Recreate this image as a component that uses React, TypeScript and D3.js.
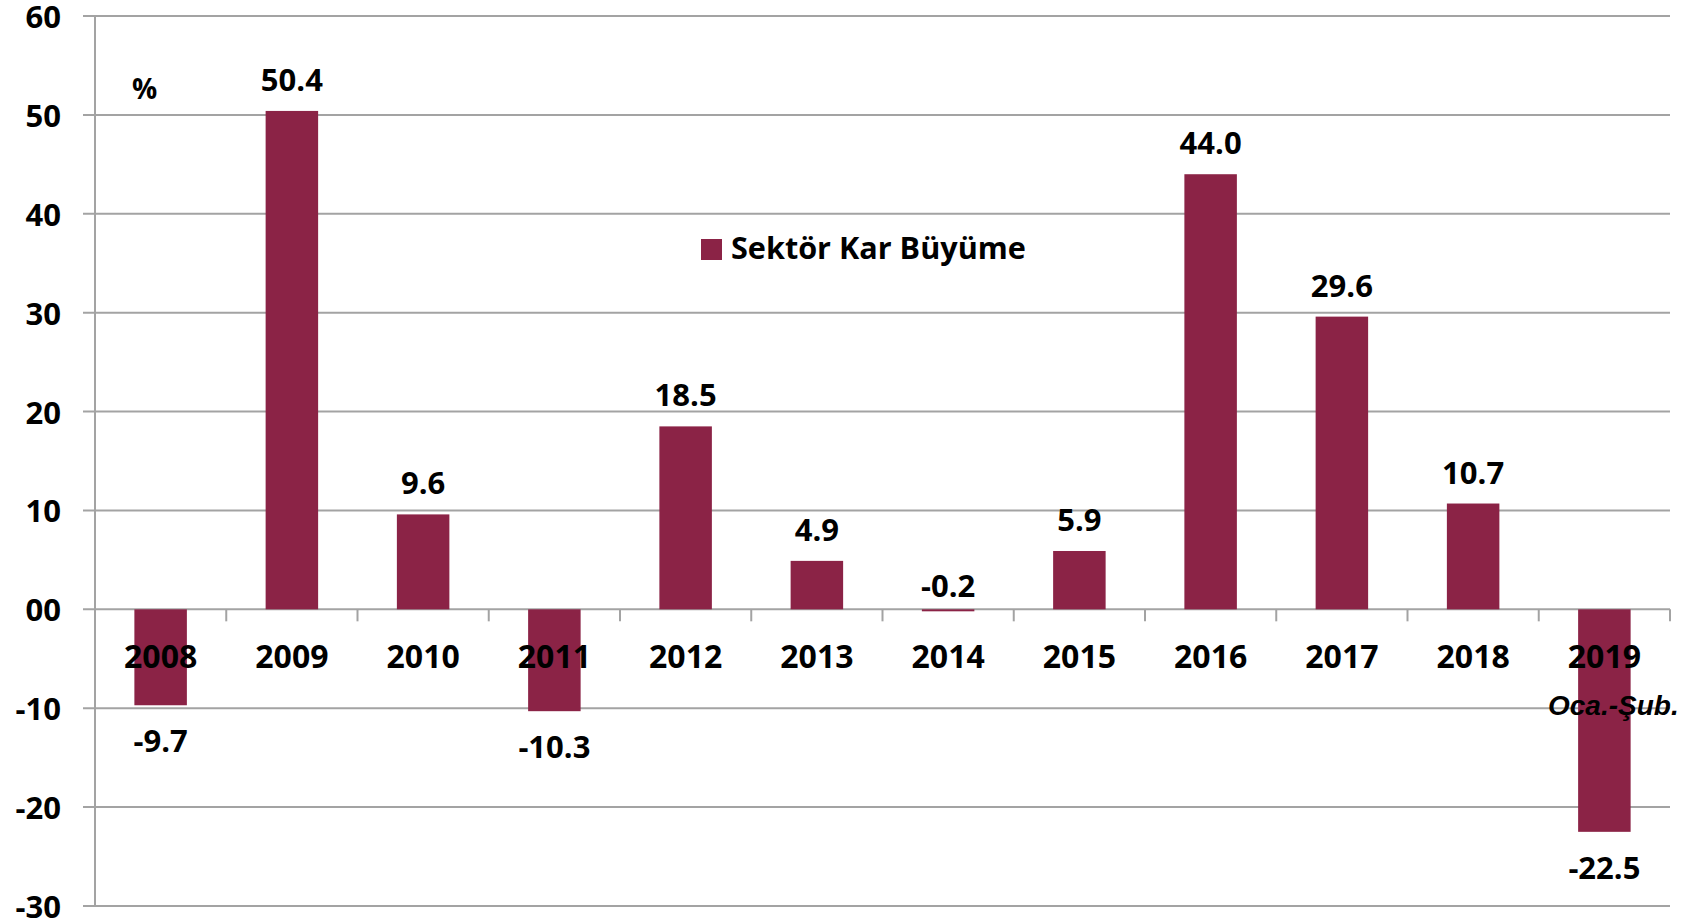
import { scaleBand, scaleLinear } from "d3";

const years = ["2008", "2009", "2010", "2011", "2012", "2013", "2014", "2015", "2016", "2017", "2018", "2019"];
const growth = [-9.7, 50.4, 9.6, -10.3, 18.5, 4.9, -0.2, 5.9, 44.0, 29.6, 10.7, -22.5];
const yTicks = [60, 50, 40, 30, 20, 10, 0, -10, -20, -30];
const yTickLabels = ["60", "50", "40", "30", "20", "10", "00", "-10", "-20", "-30"];
const seriesName = "Sektör Kar Büyüme";
const lastYearNote = "Oca.-Şub.";

const BAR = "#8B2346";
const GRID = "#A3A3A3";
const FONT = "'Open Sans', 'Noto Sans', sans-serif";

export default function App() {
  const width = 1702;
  const height = 920;
  const left = 95;
  const right = 1670;
  const x = scaleBand().domain(years).range([left, right]).paddingInner(0.6).paddingOuter(0.3);
  const step = (right - left) / years.length;
  const y = scaleLinear().domain([-30, 60]).range([906, 16]);
  const zero = y(0);

  return (
    <svg
      width={width}
      height={height}
      viewBox={`0 0 ${width} ${height}`}
      style={{ position: "absolute", left: 0, top: 0, background: "#fff" }}
    >
      {yTicks.map((t, i) => (
        <g key={t}>
          <line x1={83} x2={right} y1={y(t)} y2={y(t)} stroke={GRID} strokeWidth={2} />
          <text
            x={61}
            y={y(t) + 12}
            textAnchor="end"
            fontFamily={FONT}
            fontWeight={700}
            fontSize={31}
            fill="#000"
          >
            {yTickLabels[i]}
          </text>
        </g>
      ))}
      <line x1={left} x2={left} y1={y(60)} y2={y(-30)} stroke={GRID} strokeWidth={2} />
      {years.map((_, i) => (
        <line
          key={i}
          x1={left + step * (i + 1)}
          x2={left + step * (i + 1)}
          y1={zero}
          y2={zero + 12}
          stroke={GRID}
          strokeWidth={2}
        />
      ))}
      {years.map((yr, i) => {
        const v = growth[i];
        const bx = x(yr) ?? 0;
        const cx = bx + x.bandwidth() / 2;
        const top = Math.min(y(v), zero);
        const h = Math.abs(y(v) - zero);
        let ly;
        if (v >= 0) ly = y(v) - 20;
        else if (Math.abs(v) < 1) ly = zero - 12;
        else ly = y(v) + 47;
        return (
          <g key={yr}>
            <rect x={bx} y={top} width={x.bandwidth()} height={Math.max(h, 1.5)} fill={BAR} />
            <text x={cx} y={ly} textAnchor="middle" fontFamily={FONT} fontWeight={700} fontSize={31} fill="#000">
              {v.toFixed(1)}
            </text>
          </g>
        );
      })}
      {years.map((yr) => (
        <text
          key={yr}
          x={(x(yr) ?? 0) + x.bandwidth() / 2}
          y={zero + 59}
          textAnchor="middle"
          fontFamily={FONT}
          fontWeight={700}
          fontSize={32}
          fill="#000"
        >
          {yr}
        </text>
      ))}
      <text
        x={(x(years[years.length - 1]) ?? 0) + x.bandwidth() / 2 + 9}
        y={715}
        textAnchor="middle"
        fontFamily="'Liberation Sans', Arial, sans-serif"
        fontStyle="italic"
        fontWeight={700}
        fontSize={28}
        fill="#000"
      >
        {lastYearNote}
      </text>
      <text x={132} y={99} fontFamily={FONT} fontWeight={700} fontSize={28} fill="#000">
        %
      </text>
      <rect x={701} y={239} width={21} height={21} fill={BAR} />
      <text x={731} y={259} fontFamily={FONT} fontWeight={700} fontSize={30.6} fill="#000">
        {seriesName}
      </text>
    </svg>
  );
}
